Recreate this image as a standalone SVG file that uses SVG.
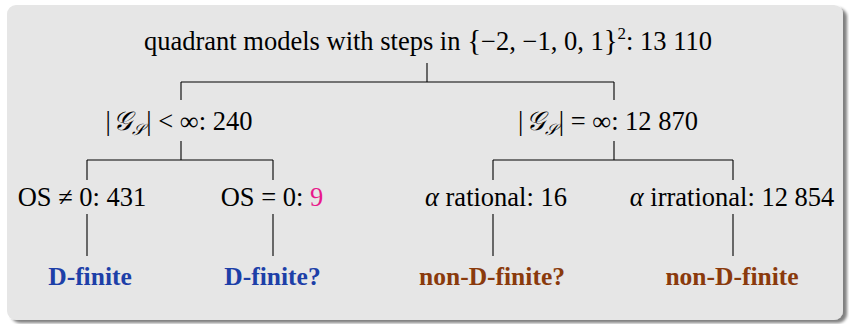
<svg xmlns="http://www.w3.org/2000/svg" width="849" height="324" viewBox="0 0 849 324">
<style>
.t{font-family:"Liberation Serif","DejaVu Serif",serif;font-size:26.5px;fill:#000}
.b{font-family:"Liberation Serif","DejaVu Serif",serif;font-size:25.5px;font-weight:bold}
.blue{fill:#1d3fa8}
.brown{fill:#8a3a0c}
.pink{fill:#e8198b}
.m{font-style:italic}
.ln{stroke:#000;stroke-width:1.1;fill:none}
</style>
<defs>
<filter id="sh" x="-5%" y="-5%" width="110%" height="115%">
<feGaussianBlur in="SourceAlpha" stdDeviation="1.5"/>
<feOffset dx="4" dy="3"/>
<feComponentTransfer><feFuncA type="linear" slope="0.5"/></feComponentTransfer>
<feMerge><feMergeNode/><feMergeNode in="SourceGraphic"/></feMerge>
</filter>
</defs>
<rect id="frame" x="7" y="5" width="836" height="315" rx="9" fill="#e6e6e6" filter="url(#sh)"/>
<g id="connectors" class="ln">
<path d="M427 63V82M181 82H614M181 82V100M614 82V100"/>
<path d="M181 141V160M87 160H273M87 160V180M273 160V180"/>
<path d="M614 141V160M493 160H733M493 160V180M733 160V180"/>
<path d="M87 214V256M273 214V256M493 214V256M733 214V256"/>
</g>
<g id="root"><text class="t" x="428" y="50" text-anchor="middle">quadrant models with steps in <tspan font-size="29">{</tspan>−2, −1, 0, 1<tspan font-size="29">}</tspan><tspan font-size="17" dy="-11">2</tspan><tspan dy="11">: 13 110</tspan></text></g>
<g id="finite"><text class="t" x="179" y="130" text-anchor="middle">|&#8202;<tspan class="m">𝒢</tspan><tspan font-size="16" dy="5" class="m">𝒮</tspan><tspan dy="-5">&#8202;|&#8197;&lt;&#8197;∞: 240</tspan></text></g>
<g id="infinite"><text class="t" x="608" y="130" text-anchor="middle">|&#8202;<tspan class="m">𝒢</tspan><tspan font-size="16" dy="5" class="m">𝒮</tspan><tspan dy="-5">&#8202;|&#8197;=&#8197;∞: 12 870</tspan></text></g>
<g id="osnz"><text class="t" x="82" y="206" text-anchor="middle">OS&#8197;≠&#8197;0: 431</text></g>
<g id="osz"><text class="t" x="272" y="206" text-anchor="middle">OS&#8197;=&#8197;0: <tspan class="pink">9</tspan></text></g>
<g id="arat"><text class="t" x="496" y="206" text-anchor="middle"><tspan class="m">α</tspan> rational: 16</text></g>
<g id="airr"><text class="t" x="732" y="206" text-anchor="middle"><tspan class="m">α</tspan> irrational: 12 854</text></g>
<g id="df1"><text class="b blue" x="90" y="285" text-anchor="middle">D-finite</text></g>
<g id="df2"><text class="b blue" x="272.5" y="285" text-anchor="middle">D-finite?</text></g>
<g id="ndf1"><text class="b brown" x="492" y="285" text-anchor="middle">non-D-finite?</text></g>
<g id="ndf2"><text class="b brown" x="732" y="285" text-anchor="middle">non-D-finite</text></g>
</svg>
